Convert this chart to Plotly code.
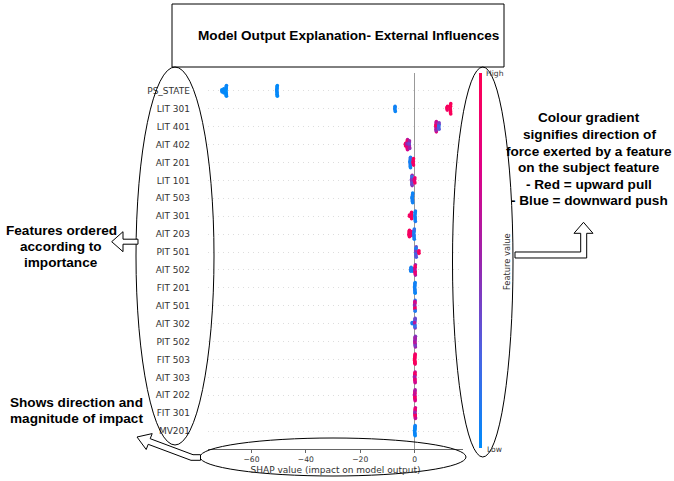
import numpy as np
import plotly.graph_objects as go

# ---------------- data ----------------
features = ["PS_STATE", "LIT 301", "LIT 401", "AIT 402", "AIT 201", "LIT 101",
            "AIT 503", "AIT 301", "AIT 203", "PIT 501", "AIT 502", "FIT 201",
            "AIT 501", "AIT 302", "PIT 502", "FIT 503", "AIT 303", "AIT 202",
            "FIT 301", "MV201"]

ps_state_shap = [-70.9, -70.9, -70.8, -70.2, -70.2, -70.1, -70.2, -70.2,
                 -69.3, -69.3, -69.4, -69.2, -69.3, -69.4, -69.3, -69.2, -69.3, -69.4, -69.3,
                 -50.6, -50.5, -50.6, -50.7, -50.6, -50.5, -50.6, -50.7, -50.6, -50.5, -50.6]
ps_state_feat = [0.02, 0.0, 0.03, 0.01, 0.02, 0.0, 0.03, 0.01,
                 0.02, 0.0, 0.01, 0.03, 0.02, 0.0, 0.01, 0.02, 0.03, 0.0, 0.01,
                 0.02, 0.0, 0.03, 0.01, 0.02, 0.0, 0.01, 0.03, 0.02, 0.0, 0.01]

lit301_shap = [-7.2, -7.3, -7.2, -7.1, -7.2,
               11.9, 12.0, 11.9, 12.1,
               13.2, 13.1, 13.2, 13.3, 13.2, 13.1, 13.2, 13.3, 13.2]
lit301_feat = [0.05, 0.02, 0.08, 0.04, 0.06,
               0.95, 0.9, 0.97, 0.92,
               0.98, 0.95, 0.99, 0.93, 0.97, 0.96, 0.98, 0.94, 0.97]

lit401_shap = [7.9, 7.8, 7.9, 8.0, 7.9, 7.8, 7.9, 8.0, 7.9,
               8.9, 9.0, 8.9, 9.0, 8.9, 9.0]
lit401_feat = [0.85, 0.6, 0.9, 0.7, 0.55, 0.95, 0.65, 0.8, 0.5,
               0.2, 0.35, 0.15, 0.3, 0.25, 0.4]

ait402_shap = [-3.3, -3.4, -3.3,
               -2.7, -2.6, -2.7, -2.8, -2.7, -2.6, -2.7, -2.8, -2.7,
               -1.9, -2.0, -1.9, -1.8, -1.9, -2.0, -1.9]
ait402_feat = [0.95, 0.9, 0.92,
               0.9, 0.6, 0.95, 0.55, 0.85, 0.7, 0.92, 0.5, 0.8,
               0.5, 0.4, 0.6, 0.45, 0.55, 0.35, 0.5]

ait201_shap = [-1.6, -1.5, -1.6, -1.7, -1.6, -1.5, -1.6, -1.7, -1.6,
               -0.5, -0.4, -0.5, -0.6, -0.5, -0.4]
ait201_feat = [0.05, 0.1, 0.03, 0.08, 0.12, 0.05, 0.15, 0.07, 0.04,
               0.9, 0.95, 0.85, 0.92, 0.88, 0.96]

lit101_shap = [-1.0, -1.1, -1.0, -0.9, -1.0, -1.1, -1.0, -0.9, -1.0,
               0.0, 0.1, 0.0, -0.1, 0.1]
lit101_feat = [0.35, 0.45, 0.25, 0.5, 0.3, 0.4, 0.2, 0.45, 0.35,
               0.9, 0.85, 0.95, 0.8, 0.9]

ait503_shap = [-0.8, -0.7, -0.8, -0.9, -0.8, -0.7, -0.8, -0.9, -0.8, -0.7]
ait503_feat = [0.05, 0.08, 0.03, 0.1, 0.06, 0.04, 0.09, 0.05, 0.07, 0.03]

ait301_shap = [-1.9, -1.9, -1.2, -1.1, -1.2, -1.3, -1.2, -1.1,
               0.2, 0.3, 0.2, 0.1, 0.2, 0.3, 0.2, 0.1, 0.2]
ait301_feat = [0.95, 0.9, 0.97, 0.92, 0.95, 0.9, 0.98, 0.93,
               0.05, 0.1, 0.03, 0.08, 0.06, 0.12, 0.04, 0.07, 0.05]

ait203_shap = [-2.0, -1.9, -2.0, -2.1, -2.0, -1.9,
               -1.3, -1.2, -1.3, -1.2,
               -0.2, -0.1, -0.2, -0.3, -0.2, -0.1, -0.2, -0.3, -0.2]
ait203_feat = [0.95, 0.92, 0.98, 0.9, 0.96, 0.93,
               0.9, 0.85, 0.95, 0.88,
               0.08, 0.12, 0.05, 0.15, 0.1, 0.06, 0.2, 0.09, 0.07]

pit501_shap = [0.5, 0.4, 0.5, 0.6, 0.5, 0.4, 0.5, 0.6, 0.5,
               1.6, 1.5, 1.6]
pit501_feat = [0.15, 0.3, 0.1, 0.35, 0.2, 0.4, 0.1, 0.25, 0.3,
               0.95, 0.9, 0.97]

ait502_shap = [-1.4, -1.3, -1.4, -1.5, -0.7, -0.6, -0.7,
               0.2, 0.1, 0.2, 0.3, 0.2, 0.1, 0.2, 0.3, 0.2]
ait502_feat = [0.05, 0.08, 0.03, 0.1, 0.06, 0.04, 0.09,
               0.9, 0.6, 0.95, 0.5, 0.85, 0.7, 0.9, 0.55, 0.8]

fit201_shap = [0.1, 0.2, 0.1, 0.0, 0.1, 0.2, 0.1, 0.0, 0.1, 0.2, 0.1]
fit201_feat = [0.05, 0.08, 0.03, 0.1, 0.06, 0.04, 0.09, 0.05, 0.07, 0.03, 0.06]

ait501_shap = [0.1, 0.2, 0.1, 0.0, 0.1, 0.2, 0.1, 0.0, 0.1, 0.2, 0.1]
ait501_feat = [0.9, 0.1, 0.85, 0.2, 0.95, 0.15, 0.8, 0.5, 0.9, 0.1, 0.7]

ait302_shap = [-0.9, -0.9,
               0.1, 0.2, 0.1, 0.0, 0.1, 0.2, 0.1, 0.0, 0.1, 0.2]
ait302_feat = [0.05, 0.08,
               0.1, 0.4, 0.2, 0.5, 0.15, 0.45, 0.3, 0.6, 0.2, 0.35]

pit502_shap = [0.2, 0.1, 0.2, 0.3, 0.2, 0.1, 0.2, 0.3, 0.2, 0.1, 0.2]
pit502_feat = [0.45, 0.55, 0.5, 0.4, 0.6, 0.5, 0.45, 0.55, 0.5, 0.6, 0.4]

fit503_shap = [0.1, 0.2, 0.1, 0.0, 0.1, 0.2, 0.1, 0.0, 0.1, 0.2, 0.1, 0.0]
fit503_feat = [0.95, 0.9, 0.97, 0.92, 0.95, 0.88, 0.98, 0.93, 0.96, 0.9, 0.94, 0.97]

ait303_shap = [0.1, 0.2, 0.1, 0.0, 0.1, 0.2, 0.1, 0.0, 0.1, 0.2, 0.1]
ait303_feat = [0.8, 0.6, 0.9, 0.5, 0.85, 0.65, 0.95, 0.55, 0.8, 0.7, 0.9]

ait202_shap = [0.1, 0.2, 0.1, 0.0, 0.1, 0.2, 0.1, 0.0, 0.1, 0.2, 0.1]
ait202_feat = [0.85, 0.6, 0.9, 0.7, 0.95, 0.55, 0.8, 0.65, 0.9, 0.75, 0.6]

fit301_shap = [0.2, 0.3, 0.2, 0.1, 0.2, 0.3, 0.2, 0.1, 0.2, 0.3, 0.2]
fit301_feat = [0.9, 0.6, 0.85, 0.55, 0.95, 0.7, 0.8, 0.5, 0.9, 0.65, 0.85]

mv201_shap = [0.1, 0.2, 0.1, 0.0, 0.1, 0.2, 0.1, 0.0, 0.1, 0.2, 0.1, 0.0]
mv201_feat = [0.02, 0.05, 0.03, 0.0, 0.04, 0.02, 0.06, 0.01, 0.03, 0.05, 0.02, 0.04]

x_tick_values = [-60, -40, -20, 0]

rows_shap = [ps_state_shap, lit301_shap, lit401_shap, ait402_shap, ait201_shap,
             lit101_shap, ait503_shap, ait301_shap, ait203_shap, pit501_shap,
             ait502_shap, fit201_shap, ait501_shap, ait302_shap, pit502_shap,
             fit503_shap, ait303_shap, ait202_shap, fit301_shap, mv201_shap]
rows_feat = [ps_state_feat, lit301_feat, lit401_feat, ait402_feat, ait201_feat,
             lit101_feat, ait503_feat, ait301_feat, ait203_feat, pit501_feat,
             ait502_feat, fit201_feat, ait501_feat, ait302_feat, pit502_feat,
             fit503_feat, ait303_feat, ait202_feat, fit301_feat, mv201_feat]

# ---------------- layout constants ----------------
W, H = 674, 481
PL, PR, PT, PB = 208, 463, 73, 449
X_RANGE = [-76, 17.8]
BIN_W = (X_RANGE[1] - X_RANGE[0]) / 160.0
ROW_H = 0.4

red_blue = [[0.0, "#008bfa"], [0.25, "#4a63e3"], [0.5, "#9b24ad"],
            [0.75, "#e00086"], [1.0, "#ff0052"]]


def swarm(vals):
    vals = np.asarray(vals, dtype=float)
    order = np.argsort(vals, kind="stable")
    ys = np.zeros(len(vals))
    layer = 0
    start = None
    for i in order:
        v = vals[i]
        if start is None or v - start > BIN_W:
            start = v
            layer = 0
        ys[i] = np.ceil(layer / 2) * ((layer % 2) * 2 - 1)
        layer += 1
    ys *= 0.9 * (ROW_H / np.max(ys + 1))
    return ys


n = len(features)
xs, ys, cs = [], [], []
for i, (sv, fv) in enumerate(zip(rows_shap, rows_feat)):
    pos = n - 1 - i
    off = swarm(sv)
    xs.extend(sv)
    ys.extend(pos + off)
    cs.extend(fv)


def fx(p):
    return (p - PL) / (PR - PL)


def fy(p):
    return (PB - p) / (PB - PT)


fig = go.Figure()
fig.add_trace(go.Scatter(
    x=xs, y=ys, mode="markers", hoverinfo="x",
    marker=dict(size=3.6, color=cs, colorscale=red_blue, cmin=0, cmax=1,
                line=dict(width=0), showscale=True,
                colorbar=dict(thickness=3, thicknessmode="pixels",
                              len=375, lenmode="pixels",
                              x=fx(479.3), xanchor="left", xpad=0,
                              y=fy(260.5), yanchor="middle", ypad=0,
                              outlinewidth=0, showticklabels=False, ticks="",
                              title=dict(text="")))
))

fig.update_layout(
    template="none",
    width=W, height=H,
    margin=dict(l=PL, r=W - PR, t=PT, b=H - PB),
    paper_bgcolor="white", plot_bgcolor="white",
    showlegend=False,
    font=dict(family="DejaVu Sans", color="#333333"),
    xaxis=dict(range=X_RANGE, tickvals=x_tick_values, ticks="outside", ticklen=3,
               tickwidth=1, tickcolor="#666666", showline=True, linecolor="#666666",
               linewidth=1, showgrid=False, zeroline=True, zerolinecolor="#999999",
               zerolinewidth=1, tickfont=dict(size=7.6, color="#333333"),
               title=dict(text="SHAP value (impact on model output)",
                          font=dict(size=9, color="#333333"), standoff=3),
               automargin=False, fixedrange=True),
    yaxis=dict(range=[-1, n], tickvals=list(range(n - 1, -1, -1)), ticktext=features,
               tickfont=dict(size=9, color="#333333"), showline=False, ticks="",
               showgrid=True, gridcolor="#dddddd", gridwidth=0.5, griddash="1px,4px",
               zeroline=False, ticklabelstandoff=17, automargin=False, fixedrange=True),
)

# ---------------- drawn callouts ----------------
LINE = dict(color="black", width=1)
shapes = []
# title box
shapes.append(dict(type="rect", xref="paper", yref="paper", x0=fx(172), x1=fx(504),
                   y0=fy(4), y1=fy(67), line=LINE, fillcolor="white", layer="above"))
# ellipses
for (x0, x1, y0, y1) in [(136, 214, 67, 445), (452.5, 513, 67, 457), (200, 466, 438, 476)]:
    shapes.append(dict(type="circle", xref="paper", yref="paper", x0=fx(x0), x1=fx(x1),
                       y0=fy(y0), y1=fy(y1), line=LINE, layer="above"))


def path(pts):
    return "M " + " L ".join(f"{fx(a):.5f},{fy(b):.5f}" for a, b in pts) + " Z"


left_arrow = [(111.7, 241.7), (123, 231.7), (123, 239.2), (138, 239.2),
              (138, 244.2), (123, 244.2), (123, 251.7)]
bottom_arrow = [(137, 437), (152.2, 433.6), (150.2, 438.7), (193.0, 454.7),
                (200.5, 454.7), (200.5, 460.3), (191.0, 460.3), (148.2, 444.3),
                (146.2, 449.5)]
right_arrow = [(515, 252), (580.7, 252), (580.7, 233.3), (574, 233.3), (583.5, 222.3),
               (593, 233.3), (586.7, 233.3), (586.7, 258), (515, 258)]
for pts in (left_arrow, bottom_arrow, right_arrow):
    shapes.append(dict(type="path", xref="paper", yref="paper", path=path(pts),
                       line=LINE, fillcolor="white", layer="above"))
fig.update_layout(shapes=shapes)

BOLD = dict(family="Liberation Sans, Arial", size=13.6, color="black")
ann = []


def label(text, x, y, xanchor="center", font=BOLD, angle=0):
    ann.append(dict(text=text, x=fx(x), y=fy(y), xref="paper", yref="paper",
                    xanchor=xanchor, yanchor="middle", showarrow=False,
                    font=font, textangle=angle))


label("<b>Model Output Explanation- External Influences</b>", 348, 35)
for t, yy in [("Colour gradient", 118), ("signifies direction of", 134.5),
              ("force exerted by a feature", 151), ("on the subject feature", 167.5),
              ("- Red = upward pull", 184), ("- Blue = downward push", 200.5)]:
    label(f"<b>{t}</b>", 589, yy)
for t, yy in [("Features ordered", 230.5), ("according to", 246.5), ("importance", 262.5)]:
    label(f"<b>{t}</b>", 61.3, yy)
for t, yy in [("Shows direction and", 402), ("magnitude of impact", 418.5)]:
    label(f"<b>{t}</b>", 7.5, yy, xanchor="left")

SMALL = dict(family="DejaVu Sans", size=7.6, color="#333333")
label("High", 484, 74, xanchor="left", font=SMALL)
label("Low", 485, 449.5, xanchor="left", font=SMALL)
label("Feature value", 506.5, 261.5, font=dict(family="DejaVu Sans", size=8.3, color="#333333"),
      angle=-90)
fig.update_layout(annotations=ann)

fig.write_html("out.html",
               config={"displayModeBar": False},
               post_script="document.body.style.margin='0';document.body.style.padding='0';")
